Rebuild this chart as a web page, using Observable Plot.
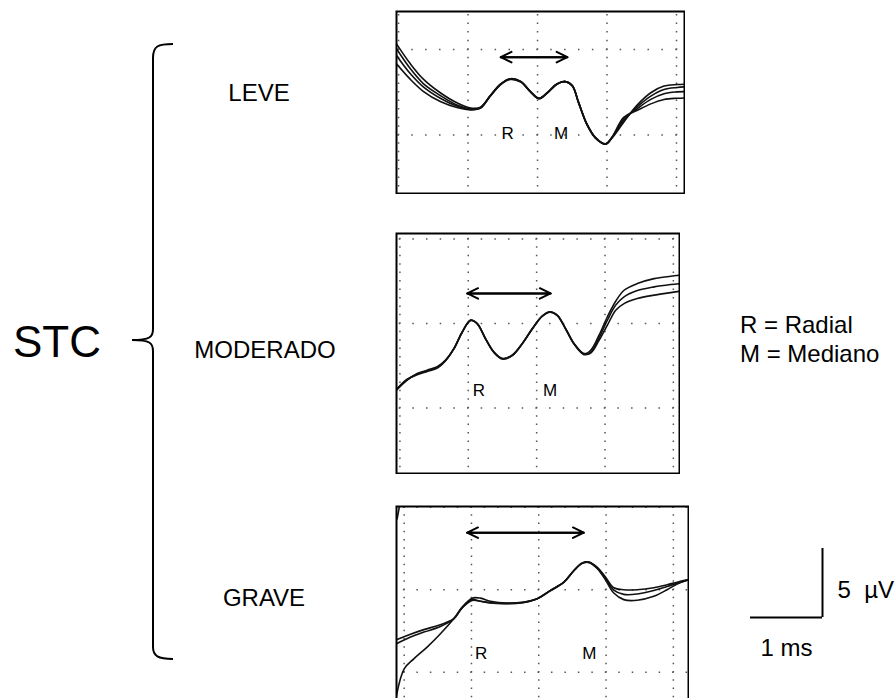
<!DOCTYPE html>
<html>
<head>
<meta charset="utf-8">
<script src="https://cdn.jsdelivr.net/npm/d3@7"></script>
<script src="https://cdn.jsdelivr.net/npm/@observablehq/plot@0.6"></script>
<style>
html, body { margin: 0; padding: 0; background: #fff; overflow: hidden; }
#wrap { position: relative; width: 896px; height: 698px; overflow: hidden; background: #fff;
  font-family: "Liberation Sans", Arial, Helvetica, sans-serif; color: #000; }
.lbl { position: absolute; white-space: nowrap; line-height: 1; }
</style>
</head>
<body>
<div id="wrap"></div>
<script>
// ---------------- DATA ----------------
const groupLabel = "STC";
const severities = ["LEVE", "MODERADO", "GRAVE"];
const legendLines = ["R = Radial", "M = Mediano"];
const peakNames = ["R", "M"];
const gridMs = [0, 1, 2, 3, 4];          // vertical grid every 1 ms
const gridUV = [0, 5, 10];               // horizontal grid every 5 µV
const scaleBarMs = [1];
const scaleBarUV = [5];
const scaleLabels = ["5\u00a0\u00a0µV", "1 ms"];

// Panel 1 — LEVE (time in ms, amplitude in µV)
const leveX = [-0.03, 0.17, 0.36, 0.60, 0.84, 1.04, 1.18, 1.32, 1.47, 1.61, 1.76, 1.90, 2.02, 2.14, 2.28, 2.40, 2.50, 2.59, 2.71, 2.83, 2.98, 3.07, 3.24, 3.43, 3.63, 3.82, 4.01, 4.13];
const leveA = [5.33, 4.16, 3.25, 2.47, 1.88, 1.57, 1.63, 2.31, 2.99, 3.29, 3.13, 2.54, 2.15, 2.47, 2.99, 3.13, 2.89, 1.92, 0.65, -0.13, -0.52, -0.19, 0.75, 1.73, 2.47, 2.86, 2.95, 2.97];
const leveB = [5.04, 3.87, 2.99, 2.31, 1.76, 1.53, 1.61, 2.27, 2.95, 3.25, 3.09, 2.50, 2.12, 2.45, 2.97, 3.11, 2.86, 1.88, 0.61, -0.17, -0.54, -0.13, 0.85, 1.63, 2.27, 2.66, 2.78, 2.82];
const leveC = [4.65, 3.58, 2.80, 2.15, 1.69, 1.49, 1.59, 2.29, 2.97, 3.27, 3.11, 2.52, 2.13, 2.46, 2.98, 3.12, 2.88, 1.90, 0.63, -0.15, -0.53, -0.16, 0.95, 1.53, 2.08, 2.41, 2.52, 2.54];
const leveD = [4.16, 3.25, 2.54, 1.96, 1.61, 1.47, 1.57, 2.30, 2.98, 3.28, 3.12, 2.53, 2.14, 2.47, 2.99, 3.13, 2.89, 1.91, 0.64, -0.14, -0.52, -0.14, 1.04, 1.43, 1.82, 2.08, 2.15, 2.17];

// Panel 2 — MODERADO
const modX = [-0.05, 0.106, 0.253, 0.399, 0.546, 0.668, 0.790, 0.912, 1.034, 1.131, 1.253, 1.375, 1.497, 1.644, 1.790, 1.937, 2.083, 2.195, 2.303, 2.425, 2.547, 2.693, 2.791, 2.913, 3.035, 3.157, 3.279, 3.474, 3.718, 3.962, 4.089];
const modA = [1.06, 1.65, 2.04, 2.24, 2.44, 2.83, 3.52, 4.51, 5.20, 5.00, 4.11, 3.32, 2.93, 3.13, 3.82, 4.70, 5.45, 5.69, 5.49, 4.70, 3.82, 3.22, 3.42, 4.31, 5.40, 6.32, 6.97, 7.37, 7.66, 7.80, 7.86];
const modB = [1.10, 1.70, 1.96, 2.16, 2.36, 2.80, 3.50, 4.48, 5.18, 4.98, 4.08, 3.28, 2.90, 3.10, 3.80, 4.68, 5.43, 5.67, 5.47, 4.66, 3.78, 3.16, 3.30, 4.15, 5.20, 6.09, 6.58, 6.95, 7.17, 7.31, 7.36];
const modC = [1.08, 1.67, 2.00, 2.20, 2.40, 2.82, 3.51, 4.50, 5.19, 4.99, 4.10, 3.30, 2.92, 3.12, 3.81, 4.69, 5.44, 5.68, 5.48, 4.68, 3.80, 3.19, 3.25, 4.00, 4.90, 5.79, 6.18, 6.48, 6.68, 6.83, 6.91];

// Panel 3 — GRAVE
const graveX = [-0.114, 0.094, 0.292, 0.539, 0.737, 0.861, 1.010, 1.134, 1.282, 1.530, 1.778, 1.976, 2.174, 2.372, 2.521, 2.644, 2.743, 2.867, 2.991, 3.115, 3.263, 3.462, 3.709, 3.907, 4.056, 4.205];
const graveA = [1.72, 2.13, 2.43, 2.77, 3.24, 3.95, 4.49, 4.49, 4.30, 4.19, 4.25, 4.45, 4.96, 5.46, 6.17, 6.62, 6.68, 6.37, 5.77, 5.12, 5.00, 5.00, 5.12, 5.30, 5.46, 5.60];
const graveB = [1.96, 2.30, 2.58, 2.88, 3.24, 3.90, 4.40, 4.30, 4.20, 4.17, 4.23, 4.45, 4.96, 5.46, 6.15, 6.60, 6.66, 6.33, 5.70, 4.98, 4.72, 4.74, 4.95, 5.20, 5.40, 5.58];
const graveCX = [-0.114, 0.0, 0.143, 0.341, 0.539, 0.737, 0.861, 1.010, 1.134, 1.282, 1.530, 1.778, 1.976, 2.174, 2.372, 2.521, 2.644, 2.743, 2.867, 2.991, 3.115, 3.263, 3.462, 3.709, 3.907, 4.056, 4.205];
const graveC = [-1.41, 0.20, 0.81, 1.52, 2.33, 3.24, 3.90, 4.35, 4.30, 4.22, 4.15, 4.23, 4.45, 4.94, 5.44, 6.15, 6.60, 6.66, 6.30, 5.60, 4.80, 4.40, 4.36, 4.60, 5.00, 5.35, 5.58];
const graveDX = [-0.055, -0.08, -0.105];
const graveD = [10.4, 9.85, 9.3];

// R–M interval arrows and peak labels (per panel)
const arrowFrom = [1.47, 0.985, 0.936];
const arrowTo = [2.43, 2.205, 2.669];
const arrowLevel = [4.55, 6.78, 8.46];
const rLabelX = [1.57, 1.155, 1.144];
const mLabelX = [2.34, 2.195, 2.753];
const peakLabelY = [0.07, 1.05, 1.15];

// ---------------- LAYOUT ----------------
const FONT = '"Liberation Sans", Arial, Helvetica, sans-serif';
const wrap = document.getElementById("wrap");

const panels = [
  {left: 396, top: 11,  w: 288, h: 182, xd: [-0.03, 4.115], yd: [-3.42, 7.22],
   traces: [[leveX, leveA], [leveX, leveB], [leveX, leveC], [leveX, leveD]]},
  {left: 396, top: 233, w: 283, h: 240, xd: [-0.05, 4.09], yd: [-3.88, 10.33],
   traces: [[modX, modA], [modX, modB], [modX, modC]]},
  {left: 396, top: 506, w: 292, h: 240, xd: [-0.114, 4.225], yd: [-4.51, 10.05],
   traces: [[graveX, graveA], [graveX, graveB], [graveCX, graveC], [graveDX, graveD]]}
];

function toRows(traces) {
  const out = [];
  traces.forEach(([xs, ys], k) => xs.forEach((x, i) => out.push({x, y: ys[i], id: k})));
  return out;
}

panels.forEach((p, idx) => {
  const W = p.w, H = p.h;
  const [x0, x1] = p.xd, [y0, y1] = p.yd;
  const sy = H / (y1 - y0) * 0.5;               // dot spacing on vertical grid lines
  const pyZero = 1 + (y1 - 0) / (y1 - y0) * H;
  const offY = (((1.75 - pyZero) % sy) + sy) % sy;
  const sx = W / (x1 - x0) * 0.2;               // dot spacing on horizontal grid lines
  const pxZero = 1 + (0 - x0) / (x1 - x0) * W;
  const offX = (((1.75 - pxZero) % sx) + sx) % sx;

  const arrows = [{a: arrowFrom[idx], b: arrowTo[idx], y: arrowLevel[idx]}];
  const labels = [
    {t: peakNames[0], x: rLabelX[idx], y: peakLabelY[idx]},
    {t: peakNames[1], x: mLabelX[idx], y: peakLabelY[idx]}
  ];
  const arrowOpts = {stroke: "#000", strokeWidth: 2, headLength: 9, headAngle: 52};

  const svg = Plot.plot({
    width: W + 2, height: H + 2, margin: 1,
    x: {domain: p.xd, axis: null},
    y: {domain: p.yd, axis: null},
    style: {background: "#fff", fontFamily: FONT, overflow: "hidden"},
    marks: [
      Plot.ruleX(gridMs.filter(v => v >= x0 && v <= x1), {
        stroke: "#555", strokeWidth: 1.5,
        strokeDasharray: `1.5,${(sy - 1.5).toFixed(3)}`, strokeDashoffset: offY.toFixed(3)}),
      Plot.ruleY(gridUV.filter(v => v >= y0 && v <= y1), {
        stroke: "#555", strokeWidth: 1.5,
        strokeDasharray: `1.5,${(sx - 1.5).toFixed(3)}`, strokeDashoffset: offX.toFixed(3)}),
      Plot.line(toRows(p.traces), {x: "x", y: "y", z: "id", stroke: "#111",
        strokeWidth: 1.6, curve: "catmull-rom", clip: true}),
      Plot.arrow(arrows, {x1: "a", x2: "b", y1: "y", y2: "y", ...arrowOpts}),
      Plot.arrow(arrows, {x1: "b", x2: "a", y1: "y", y2: "y", ...arrowOpts}),
      Plot.text(labels, {x: "x", y: "y", text: "t", fontSize: 17, fill: "#000",
        fontFamily: FONT, textAnchor: "middle", lineAnchor: "middle"}),
      Plot.frame({stroke: "#000", strokeWidth: 2})
    ]
  });
  svg.style.position = "absolute";
  svg.style.left = (p.left - 1) + "px";
  svg.style.top = (p.top - 1) + "px";
  svg.style.maxWidth = "none";
  wrap.appendChild(svg);
});

// Scale bar (1 ms / 5 µV) drawn through its own scales
const scaleSvg = Plot.plot({
  width: 160, height: 130, margin: 0,
  x: {domain: [0, 1], range: [10, 82], axis: null},
  y: {domain: [0, 5], range: [77, 8], axis: null},
  style: {background: "transparent", fontFamily: FONT, overflow: "visible"},
  marks: [
    Plot.ruleY([0], {x1: 0, x2: scaleBarMs[0], stroke: "#000", strokeWidth: 2}),
    Plot.ruleX(scaleBarMs, {y1: 0, y2: scaleBarUV[0], stroke: "#000", strokeWidth: 2}),
    Plot.text([scaleLabels[0]], {x: scaleBarMs[0], y: scaleBarUV[0] * 0.39, dx: 15,
      textAnchor: "start", lineAnchor: "middle", fontSize: 24, fill: "#000", fontFamily: FONT}),
    Plot.text([scaleLabels[1]], {x: scaleBarMs[0] / 2, y: -scaleBarUV[0] * 0.45,
      textAnchor: "middle", lineAnchor: "middle", fontSize: 24, fill: "#000", fontFamily: FONT})
  ]
});
scaleSvg.style.position = "absolute";
scaleSvg.style.left = "740px";
scaleSvg.style.top = "540px";
scaleSvg.style.maxWidth = "none";
wrap.appendChild(scaleSvg);

// Brace
const NS = "http://www.w3.org/2000/svg";
const brace = document.createElementNS(NS, "svg");
brace.setAttribute("width", "200");
brace.setAttribute("height", "698");
brace.style.position = "absolute";
brace.style.left = "0px";
brace.style.top = "0px";
const path = document.createElementNS(NS, "path");
path.setAttribute("d", "M173,44 C158,44 153,46 153,58 L153,329 C153,337 150,340 132,340 C150,340 153,343 153,351 L153,647 C153,656 158,659 173,659");
path.setAttribute("fill", "none");
path.setAttribute("stroke", "#000");
path.setAttribute("stroke-width", "2");
brace.appendChild(path);
wrap.appendChild(brace);

// Text labels
function label(text, x, y, size, anchorCenter) {
  const d = document.createElement("div");
  d.className = "lbl";
  d.textContent = text;
  d.style.fontSize = size + "px";
  d.style.left = x + "px";
  d.style.top = y + "px";
  d.style.transform = anchorCenter ? "translate(-50%,-50%)" : "translate(0,-50%)";
  wrap.appendChild(d);
}
label(groupLabel, 13, 342, 44, false);
label(severities[0], 259, 93, 24, true);
label(severities[1], 265, 350, 24, true);
label(severities[2], 264, 598, 24, true);
label(legendLines[0], 740, 325, 24, false);
label(legendLines[1], 740, 354, 24, false);
</script>
</body>
</html>
